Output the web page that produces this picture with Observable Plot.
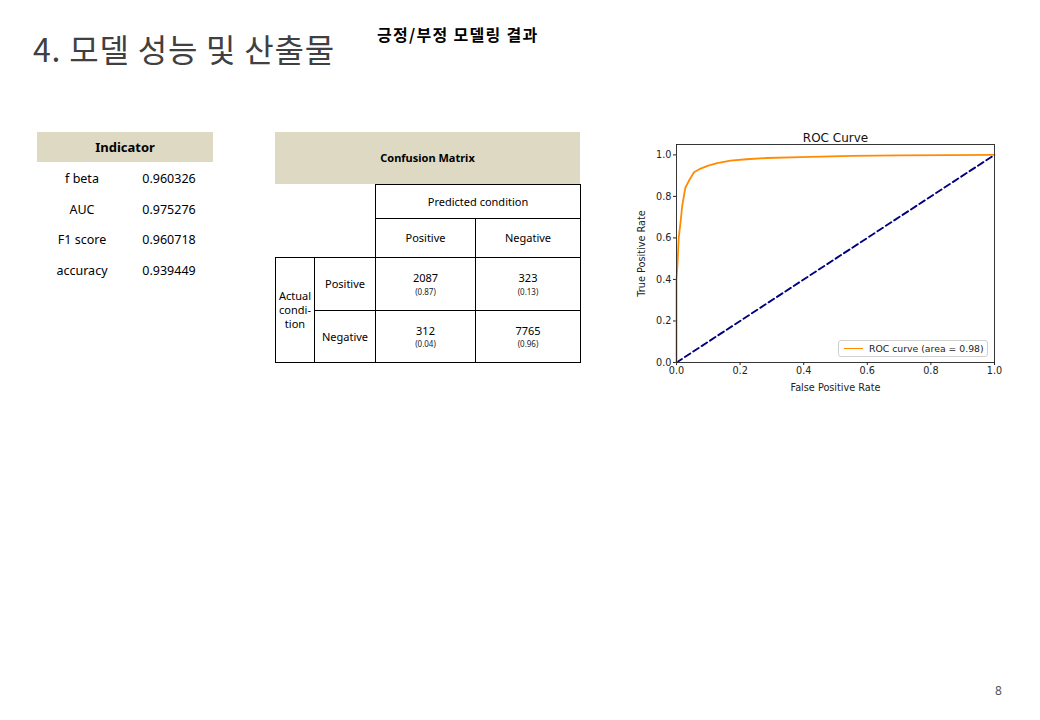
<!DOCTYPE html>
<html>
<head>
<meta charset="utf-8">
<script src="https://cdn.jsdelivr.net/npm/d3@7"></script>
<script src="https://cdn.jsdelivr.net/npm/@observablehq/plot@0.6"></script>
<style>
  html, body { margin: 0; padding: 0; background: #fff; }
  #slide { position: relative; width: 1040px; height: 720px; overflow: hidden; background: #fff;
           font-family: "Noto Sans", "Noto Sans CJK KR", sans-serif; color: #000; }
  .abs { position: absolute; }
  .cell { position: absolute; box-sizing: border-box; display: flex; flex-direction: column;
          align-items: center; justify-content: center; text-align: center; font-size: 11px; line-height: 1.25; }
  .sub { font-size: 8px; color: #222; margin-top: 2px; }
  #roc { position: absolute; left: 630px; top: 120px; }
  #roc svg { font-family: "DejaVu Sans", sans-serif; }
</style>
</head>
<body>
<div id="slide"></div>
<script>
// ---------- data ----------
const slideTitle = "4. 모델 성능 및 산출물";
const slideSubtitle = "긍정/부정 모델링 결과";
const pageNumber = "8";

const indicatorNames = ["f beta", "AUC", "F1 score", "accuracy"];
const indicatorValues = ["0.960326", "0.975276", "0.960718", "0.939449"];

const cmClasses = ["Positive", "Negative"];
const cmCounts = [[2087, 323], [312, 7765]];
const cmRates = [["(0.87)", "(0.13)"], ["(0.04)", "(0.96)"]];

const rocFpr = [0, 0, 0.003, 0.007, 0.013, 0.018, 0.028, 0.039, 0.055, 0.076, 0.1, 0.128, 0.17, 0.22, 0.285, 0.39, 0.55, 0.7, 0.85, 1.0];
const rocTpr = [0, 0.40, 0.47, 0.60, 0.68, 0.755, 0.843, 0.875, 0.916, 0.934, 0.948, 0.96, 0.972, 0.979, 0.985, 0.989, 0.995, 0.998, 0.999, 1.0];
const chanceFpr = [0, 1];
const chanceTpr = [0, 1];
const rocAuc = 0.98;
const axisTicks = [0, 0.2, 0.4, 0.6, 0.8, 1.0];

// ---------- slide text ----------
const slide = document.getElementById("slide");
function add(html, style, cls = "abs") {
  const d = document.createElement("div");
  d.className = cls;
  d.innerHTML = html;
  Object.assign(d.style, style);
  slide.appendChild(d);
  return d;
}
const beige = "#ddd9c3";

add(slideTitle, {left: "33px", top: "27px", fontSize: "32px", letterSpacing: "0.8px", fontFamily: "'Noto Sans CJK KR', sans-serif",
  fontWeight: "400", color: "#404040", whiteSpace: "nowrap", lineHeight: "42px"});
add(slideSubtitle, {left: "377px", top: "23px", fontSize: "16px", letterSpacing: "1.3px", fontFamily: "'Noto Sans CJK KR', sans-serif",
  fontWeight: "700", whiteSpace: "nowrap", lineHeight: "22px"});
add(pageNumber, {left: "995px", top: "682px", fontSize: "12px", color: "#555"});

// Indicator table
add("Indicator", {left: "37px", top: "132px", width: "176px", height: "30px", background: beige,
  fontWeight: "700", fontSize: "13px"}, "cell");
indicatorNames.forEach((n, i) => {
  const top = 164 + i * 30.5;
  add(n, {left: "37px", top: top + "px", width: "90px", height: "30px", fontSize: "12.5px"}, "cell");
  add(indicatorValues[i], {left: "127px", top: top + "px", width: "84px", height: "30px", fontSize: "12.5px"}, "cell");
});

// Confusion matrix
const bd = "1px solid #000";
add("<b>Confusion Matrix</b>", {left: "275px", top: "132px", width: "305px", height: "52px", background: beige,
  fontSize: "11px"}, "cell");
add("Predicted condition", {left: "375px", top: "184px", width: "206px", height: "35px", border: bd}, "cell");
const colX = [375, 475], colW = [101, 106];
cmClasses.forEach((c, j) => {
  add(c, {left: colX[j] + "px", top: "218px", width: colW[j] + "px", height: "40px", border: bd}, "cell");
});
add("Actual<br>condi-<br>tion", {left: "275px", top: "257px", width: "40px", height: "106px", border: bd}, "cell");
const rowY = [257, 310], rowH = [54, 53];
cmClasses.forEach((r, i) => {
  add(r, {left: "314px", top: rowY[i] + "px", width: "62px", height: rowH[i] + "px", border: bd}, "cell");
  cmClasses.forEach((c, j) => {
    add(`<div>${cmCounts[i][j]}</div><div class="sub">${cmRates[i][j]}</div>`,
      {left: colX[j] + "px", top: rowY[i] + "px", width: colW[j] + "px", height: rowH[i] + "px", border: bd}, "cell");
  });
});

// ---------- ROC chart ----------
const rocData = rocFpr.map((x, i) => ({fpr: x, tpr: rocTpr[i]}));
const chanceData = chanceFpr.map((x, i) => ({fpr: x, tpr: chanceTpr[i]}));
const fmt = d3.format(".1f");

const chart = Plot.plot({
  width: 380,
  height: 280,
  marginLeft: 46,
  marginRight: 16,
  marginTop: 24,
  marginBottom: 38,
  style: {fontFamily: "DejaVu Sans, sans-serif", fontSize: "9.7px", color: "#222", background: "transparent"},
  x: {domain: [0, 1], ticks: axisTicks, tickFormat: fmt, tickSize: 3, tickPadding: 2,
      label: "False Positive Rate", labelAnchor: "center", labelArrow: "none", labelOffset: 28},
  y: {domain: [0, 1.05], ticks: axisTicks, tickFormat: fmt, tickSize: 3, tickPadding: 2,
      label: "True Positive Rate", labelAnchor: "center", labelArrow: "none", labelOffset: 38},
  marks: [
    Plot.line(chanceData, {x: "fpr", y: "tpr", stroke: "#000080", strokeWidth: 1.9, strokeDasharray: "6.5,3.5"}),
    Plot.line(rocData, {x: "fpr", y: "tpr", stroke: "#ff8c00", strokeWidth: 1.8}),
    Plot.frame({stroke: "#222", strokeWidth: 0.9}),
    Plot.text(["ROC Curve"], {frameAnchor: "top", lineAnchor: "bottom", dy: -3, fontSize: 12, fill: "#111"})
  ]
});
const holder = document.createElement("div");
holder.id = "roc";
holder.appendChild(chart);
slide.appendChild(holder);

// legend (matplotlib-style box)
add(`<span style="display:inline-block;width:19px;height:0;border-top:1.8px solid #ff8c00;vertical-align:middle;margin-right:6px"></span>ROC curve (area = ${rocAuc.toFixed(2)})`,
  {left: "838px", top: "340px", width: "150px", height: "17px", boxSizing: "border-box", border: "1px solid #d0d0d0",
   borderRadius: "3px", fontFamily: "'DejaVu Sans', sans-serif", fontSize: "9.3px", color: "#222",
   display: "flex", alignItems: "center", paddingLeft: "5px", whiteSpace: "nowrap", background: "#fff"});
</script>
</body>
</html>
